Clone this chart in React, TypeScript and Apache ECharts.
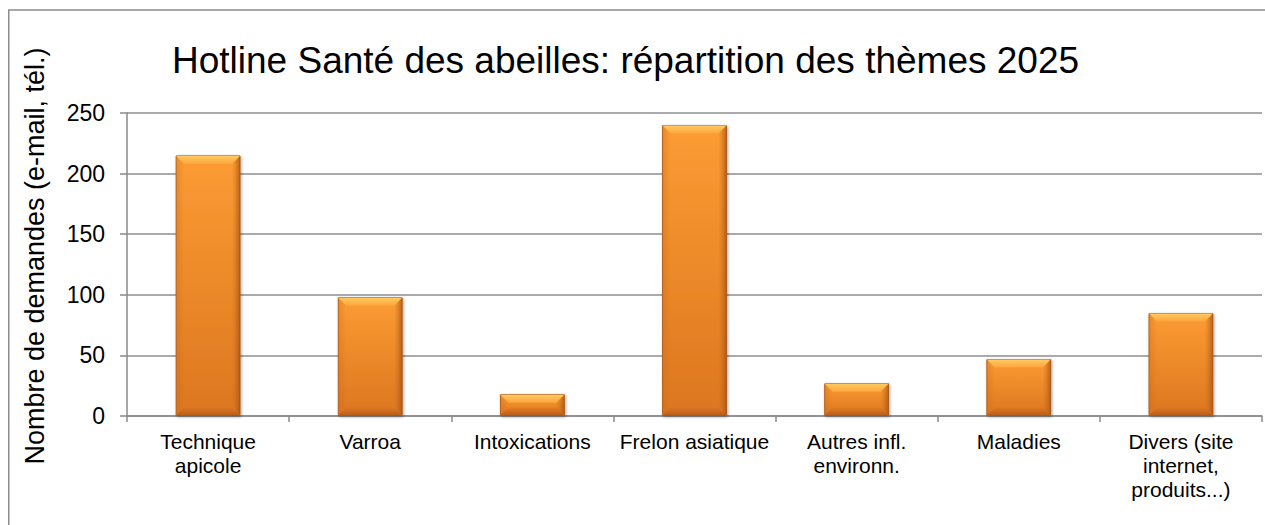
import React, { useEffect, useRef } from "react";
import * as echarts from "echarts";

const categories = [
  "Technique\napicole",
  "Varroa",
  "Intoxications",
  "Frelon asiatique",
  "Autres infl.\nenvironn.",
  "Maladies",
  "Divers (site\ninternet,\nproduits...)",
];
const values = [215, 98, 18, 240, 27, 47, 85];
const yTicks = { min: 0, max: 250, interval: 50 };
const titleText = "Hotline Santé des abeilles: répartition des thèmes 2025";
const yName = "Nombre de demandes (e-mail, tél.)";

const FONT = "'Liberation Sans', Arial, Helvetica, sans-serif";

export default function App() {
  const ref = useRef<HTMLDivElement>(null);
  useEffect(() => {
    document.documentElement.style.overflow = "hidden";
    document.body.style.margin = "0";
    const chart = echarts.init(ref.current!, undefined, { renderer: "svg" });
    const barWidthRatio = 0.4;
    chart.setOption({
      animation: false,
      backgroundColor: "#ffffff",
      title: {
        text: titleText,
        left: 167,
        top: 37,
        textStyle: { fontFamily: FONT, fontSize: 37, fontWeight: "normal", color: "#000" },
      },
      graphic: [
        {
          type: "polyline",
          shape: { points: [[8.75, 800], [8.75, 10], [1500, 10]] },
          style: { fill: "none", stroke: "#8c8c8c", lineWidth: 1.5 },
          silent: true,
          z: -10,
        },
        {
          type: "text",
          x: 35,
          y: 256,
          rotation: Math.PI / 2,
          style: {
            text: yName,
            font: `27px ${FONT}`,
            fill: "#000",
            align: "center",
            verticalAlign: "middle",
          },
        },
      ],
      grid: { left: 127, right: 3, top: 113, bottom: 109, containLabel: false },
      xAxis: {
        type: "category",
        data: categories,
        axisLine: { show: true, lineStyle: { color: "#8a8a8a", width: 1.5 } },
        axisTick: { show: true, length: 6, lineStyle: { color: "#8a8a8a", width: 1.5 } },
        axisLabel: {
          interval: 0,
          margin: 13,
          fontFamily: FONT,
          fontSize: 21,
          lineHeight: 24,
          color: "#000",
        },
      },
      yAxis: {
        type: "value",
        min: yTicks.min,
        max: yTicks.max,
        interval: yTicks.interval,
        axisLine: { show: true, lineStyle: { color: "#8a8a8a", width: 1.5 } },
        axisTick: { show: true, length: 7, lineStyle: { color: "#8a8a8a", width: 1.5 } },
        splitLine: { show: true, lineStyle: { color: "#8e8e8e", width: 1.5 } },
        axisLabel: { margin: 22, fontFamily: FONT, fontSize: 23, color: "#000" },
      },
      series: [
        {
          type: "bar",
          data: values,
          barWidth: "40%",
          itemStyle: {
            color: new echarts.graphic.LinearGradient(0, 0, 0, 1, [
              { offset: 0, color: "#FC9C33" },
              { offset: 1, color: "#DC7620" },
            ]),
            borderColor: "#B0601A",
            borderWidth: 1,
            shadowBlur: 3,
            shadowColor: "rgba(0,0,0,0.35)",
            shadowOffsetX: 1,
            shadowOffsetY: 1,
          },
          z: 2,
        },
        {
          type: "custom",
          silent: true,
          z: 3,
          data: values.map((v, i) => [i, v]),
          renderItem: (params: any, api: any) => {
            const topPt = api.coord([api.value(0), api.value(1)]);
            const basePt = api.coord([api.value(0), 0]);
            const bw = api.size([1, 0])[0] * barWidthRatio;
            const l = topPt[0] - bw / 2 + 0.5;
            const r = topPt[0] + bw / 2 - 0.5;
            const t = topPt[1] + 0.5;
            const bot = basePt[1] - 0.5;
            const h = bot - t;
            const b = Math.min(8, h / 2, bw / 2);
            return {
              type: "group",
              children: [
                {
                  type: "polygon",
                  shape: { points: [[l, t], [r, t], [r - b, t + b], [l + b, t + b]] },
                  style: {
                    fill: new echarts.graphic.LinearGradient(0, 0, 0, 1, [
                      { offset: 0, color: "#FFCB62" },
                      { offset: 1, color: "#FCA53C" },
                    ]),
                  },
                },
                {
                  type: "polygon",
                  shape: { points: [[r, t], [r, bot], [r - b, bot - b], [r - b, t + b]] },
                  style: {
                    fill: new echarts.graphic.LinearGradient(0, 0, 1, 0, [
                      { offset: 0, color: "rgba(200,105,25,0)" },
                      { offset: 1, color: "rgba(160,80,20,0.75)" },
                    ]),
                  },
                },
                {
                  type: "polygon",
                  shape: { points: [[l, t], [l + b, t + b], [l + b, bot - b], [l, bot]] },
                  style: {
                    fill: new echarts.graphic.LinearGradient(0, 0, 1, 0, [
                      { offset: 0, color: "rgba(200,105,25,0.35)" },
                      { offset: 1, color: "rgba(200,105,25,0)" },
                    ]),
                  },
                },
                {
                  type: "polygon",
                  shape: { points: [[l, bot], [r, bot], [r - b, bot - b], [l + b, bot - b]] },
                  style: {
                    fill: new echarts.graphic.LinearGradient(0, 0, 0, 1, [
                      { offset: 0, color: "rgba(200,100,25,0.15)" },
                      { offset: 1, color: "rgba(160,75,20,0.65)" },
                    ]),
                  },
                },
              ],
            };
          },
        },
      ],
    });
    return () => chart.dispose();
  }, []);
  return <div ref={ref} style={{ width: 1265, height: 525 }} />;
}
